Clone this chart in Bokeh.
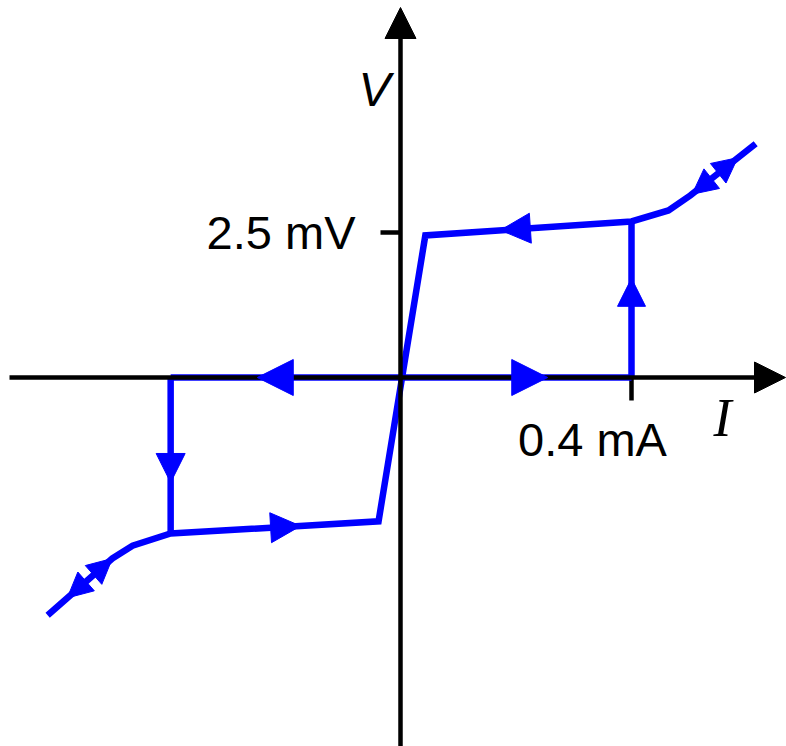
from bokeh.plotting import figure
from bokeh.models import Range1d, Arrow, NormalHead, Label
from bokeh.embed import file_html
from bokeh.resources import INLINE

# Hysteretic I-V characteristic (current in mA, voltage in mV)
branch_i = [-0.611, -0.499, -0.464, -0.398, -0.038, 0.043, 0.400, 0.464, 0.502, 0.615]
branch_v = [-4.10, -3.12, -2.90, -2.69, -2.48, 2.45, 2.69, 2.88, 3.14, 4.03]

# Zero-voltage (supercurrent) branch and the two switching jumps
zero_i = [-0.398, 0.400]
zero_v = [0.0, 0.0]
jump_up_i = [0.400, 0.400]
jump_up_v = [0.0, 2.69]
jump_down_i = [-0.398, -0.398]
jump_down_v = [0.0, -2.69]

# Direction markers: tip point, a point behind it on the same segment, head size
arrow_tip_i = [-0.248, 0.255, 0.173, -0.173, 0.400, -0.398, 0.505, 0.584, -0.499, -0.577]
arrow_tip_v = [0.0, 0.0, 2.54, -2.56, 1.71, -1.81, 3.16, 3.79, -3.12, -3.80]
arrow_from_i = [0.0, 0.0, 0.400, -0.398, 0.400, -0.398, 0.615, 0.502, -0.611, -0.499]
arrow_from_v = [0.0, 0.0, 2.69, -2.69, 0.0, 0.0, 4.03, 3.14, -4.10, -3.12]
arrow_size = [36, 36, 30, 30, 28, 29, 25, 25, 25, 25]

# Tick marks and their labels
tick_i = 0.4
tick_v = 2.5
tick_i_label = "0.4 mA"
tick_v_label = "2.5 mV"

PX_PER_MA = 577.5
PX_PER_MV = 58.0
W, H = 786, 746
ORIGIN_X, ORIGIN_Y = 400, 377

p = figure(width=W, height=H, output_backend="svg", toolbar_location=None,
           x_range=Range1d(-ORIGIN_X / PX_PER_MA, (W - ORIGIN_X) / PX_PER_MA),
           y_range=Range1d(-(H - ORIGIN_Y) / PX_PER_MV, ORIGIN_Y / PX_PER_MV),
           min_border=0, outline_line_color=None)
p.axis.visible = False
p.grid.visible = False
p.background_fill_color = "white"
p.border_fill_color = "white"

BLACK = "black"
BLUE = "#0000ff"

# Coordinate axes with arrowheads
p.add_layout(Arrow(x_start=-391 / PX_PER_MA, y_start=0, x_end=385 / PX_PER_MA, y_end=0,
                   line_color=BLACK, line_width=4.5,
                   end=NormalHead(size=31, fill_color=BLACK, line_color=BLACK, line_width=1)))
p.add_layout(Arrow(x_start=0, y_start=-(H - ORIGIN_Y + 2) / PX_PER_MV, x_end=0, y_end=370 / PX_PER_MV,
                   line_color=BLACK, line_width=4.5,
                   end=NormalHead(size=31, fill_color=BLACK, line_color=BLACK, line_width=1)))

# Tick marks
p.segment(x0=[tick_i], y0=[0], x1=[tick_i], y1=[-23 / PX_PER_MV], line_color=BLACK, line_width=4.5)
p.segment(x0=[-20 / PX_PER_MA], y0=[tick_v], x1=[0], y1=[tick_v], line_color=BLACK, line_width=4.5)

# Curve
lw = 6.5
p.line(branch_i, branch_v, line_color=BLUE, line_width=lw, line_join="miter")
p.line(zero_i, zero_v, line_color=BLUE, line_width=lw)
p.line(jump_up_i, jump_up_v, line_color=BLUE, line_width=lw)
p.line(jump_down_i, jump_down_v, line_color=BLUE, line_width=lw)

for ti, tv, fi, fv, s in zip(arrow_tip_i, arrow_tip_v, arrow_from_i, arrow_from_v, arrow_size):
    p.add_layout(Arrow(x_start=fi, y_start=fv, x_end=ti, y_end=tv,
                       line_alpha=0, line_width=0,
                       end=NormalHead(size=s, fill_color=BLUE, line_color=BLUE, line_width=1)))

# Labels
font = "Liberation Sans"
p.add_layout(Label(x=-45 / PX_PER_MA, y=tick_v, text=tick_v_label, text_align="right",
                   text_baseline="middle", text_font=font, text_font_size="47px", text_color=BLACK))
p.add_layout(Label(x=192 / PX_PER_MA, y=-62 / PX_PER_MV, text=tick_i_label, text_align="center",
                   text_baseline="alphabetic", text_font=font, text_font_size="47px", text_color=BLACK))
p.add_layout(Label(x=-26 / PX_PER_MA, y=288 / PX_PER_MV, text="V", text_align="center",
                   text_baseline="alphabetic", text_font=font, text_font_style="italic",
                   text_font_size="48px", text_color=BLACK))
p.add_layout(Label(x=322 / PX_PER_MA, y=-40 / PX_PER_MV, text="I", text_align="center",
                   text_baseline="alphabetic", text_font="Liberation Serif", text_font_style="italic",
                   text_font_size="54px", text_color=BLACK))

open("out.html", "w").write(file_html(p, INLINE))
